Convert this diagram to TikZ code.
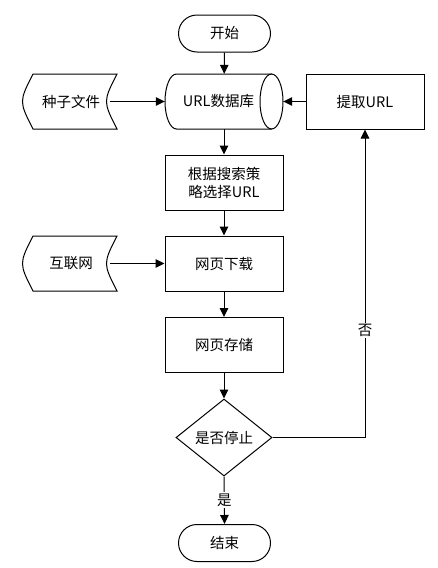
\documentclass[tikz,border=0pt]{standalone}
\usepackage{fontspec}
\newfontfamily\cjk{Noto Sans CJK SC}
\usetikzlibrary{arrows.meta,shapes.geometric}
\begin{document}
\begin{tikzpicture}[x=1pt,y=-1pt,
  every node/.style={font=\cjk\fontsize{14.5}{18}\selectfont, inner sep=0pt},
  line/.style={line width=1pt},
  arr/.style={line width=1pt,-{Triangle[length=9pt,width=8.5pt]}},
  boxnode/.style={draw,line width=1pt,minimum width=118pt,minimum height=55pt,align=center},
  term/.style={draw,line width=1pt,rounded corners=18.5pt,minimum width=92pt,minimum height=37pt},
  decision/.style={draw,line width=1pt,diamond,aspect=1.25,minimum width=96pt,minimum height=77pt},
  lbl/.style={fill=white,inner sep=1.5pt}]
\useasboundingbox (0,0) rectangle (437,568);

% start
\node[term] (start) at (224.5,33.5) {开始};

% URL database (horizontal cylinder)
\node[minimum width=118pt,minimum height=55pt] (db) at (224,101.5) {};
\draw[line] (271.5,74) -- (176.5,74)
  arc[start angle=270,end angle=90,x radius=11.5,y radius=27.5]
  -- (271.5,129);
\draw[line] (271.5,101.5) ellipse[x radius=11.5,y radius=27.5];
\node (dbtext) at (218.5,101.5) {URL数据库};

% seed file (stored data)
\node[minimum width=78pt,minimum height=55pt] (seed) at (71,101.5) {种子文件};
\draw[line] (33,74) -- (117,74) .. controls (103,101.5) .. (117,129)
  -- (33,129) .. controls (19,101.5) .. (33,74) -- cycle;

% extract URL
\node[boxnode] (extract) at (365,101.5) {提取URL};

% select
\node[boxnode] (select) at (224,182.5) {根据搜索策\\略选择URL};

% internet (stored data)
\node[minimum width=78pt,minimum height=55pt] (net) at (71,263.5) {互联网};
\draw[line] (33,236) -- (117,236) .. controls (103,263.5) .. (117,291)
  -- (33,291) .. controls (19,263.5) .. (33,236) -- cycle;

% download
\node[boxnode] (down) at (224,263.5) {网页下载};

% store
\node[boxnode] (store) at (224,345) {网页存储};

% decision
\node[decision] (stop) at (224,437.5) {};
\node at (224,437.5) {是否停止};

% end
\node[term] (end) at (224.5,543) {结束};

% connectors
\draw[arr] (start) -- (db);
\draw[arr] (seed.east) -- (db.west);
\draw[arr] (extract.west) -- (db.east);
\draw[arr] (db.south) -- (select.north);
\draw[arr] (select) -- (down);
\draw[arr] (net.east) -- (down.west);
\draw[arr] (down) -- (store);
\draw[arr] (store) -- (stop.north);
\draw[arr] (stop.south) -- node[lbl,pos=0.5] {是} (end.north);
\draw[arr] (stop.east) -| node[lbl,pos=0.674] {否} (extract.south);
\end{tikzpicture}
\end{document}
